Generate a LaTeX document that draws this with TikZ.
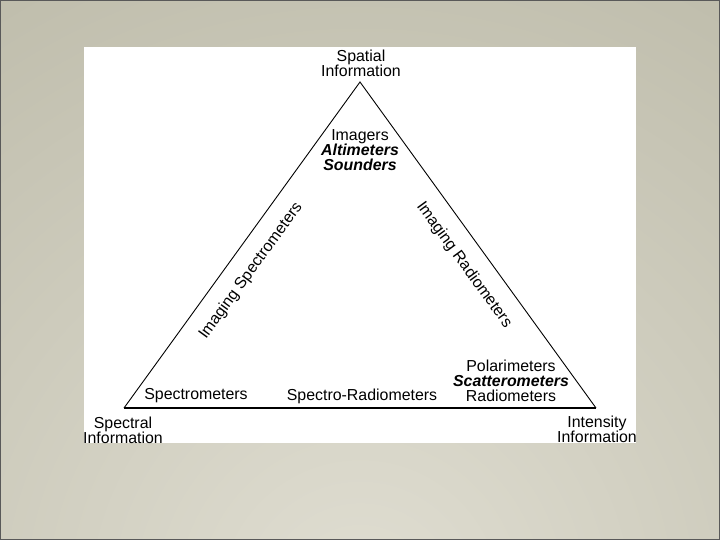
\documentclass[tikz,border=0pt]{standalone}
\usepackage{fontspec}
\setmainfont{Liberation Sans}
\usetikzlibrary{positioning,calc}
\definecolor{bgdark}{RGB}{186,184,166}
\definecolor{bglight}{RGB}{224,222,210}

\begin{document}
\begin{tikzpicture}[
    x=1pt, y=1pt,
    label/.style={inner sep=0pt, align=center, font=\fontsize{15.9}{15.2}\selectfont},
    side/.style={line width=0.9pt},
    base/.style={line width=1.9pt}
]
\useasboundingbox (0,0) rectangle (720,540);
\begin{scope}
\clip (0,0) rectangle (720,540);
\shade[inner color=bglight, outer color=bgdark] (360,-60) circle (820);
\end{scope}
\draw[gray!70!black, line width=0.8pt] (0.4,0.4) rectangle (719.6,539.6);
\fill[white] (84,96.5) rectangle (636,492.5);

\coordinate (top) at (360,458);
\coordinate (left) at (124,132);
\coordinate (right) at (596,132);

\node[label] (spatial) at (361,477) {Spatial\\Information};
\node[label] (spectral) at (123,110) {Spectral\\Information};
\node[label] (intensity) at (597,111) {Intensity\\Information};

\node[label] (imagers) at (360,390) {Imagers\\\textbf{\textit{Altimeters}}\\\textbf{\textit{Sounders}}};
\node[label] (polar) at (511,159) {Polarimeters\\\textbf{\textit{Scatterometers}}\\Radiometers};
\node[label] (spectro) at (196,144) {Spectrometers};
\node[label] (specrad) at (362,144) {Spectro-Radiometers};
\node[label, rotate=54] (imgspec) at (251,269) {Imaging Spectrometers};
\node[label, rotate=-54] (imgrad) at (464,275) {Imaging Radiometers};

\draw[side] (left) -- (top) -- (right);
\draw[base] (left) -- (right);
\end{tikzpicture}
\end{document}
